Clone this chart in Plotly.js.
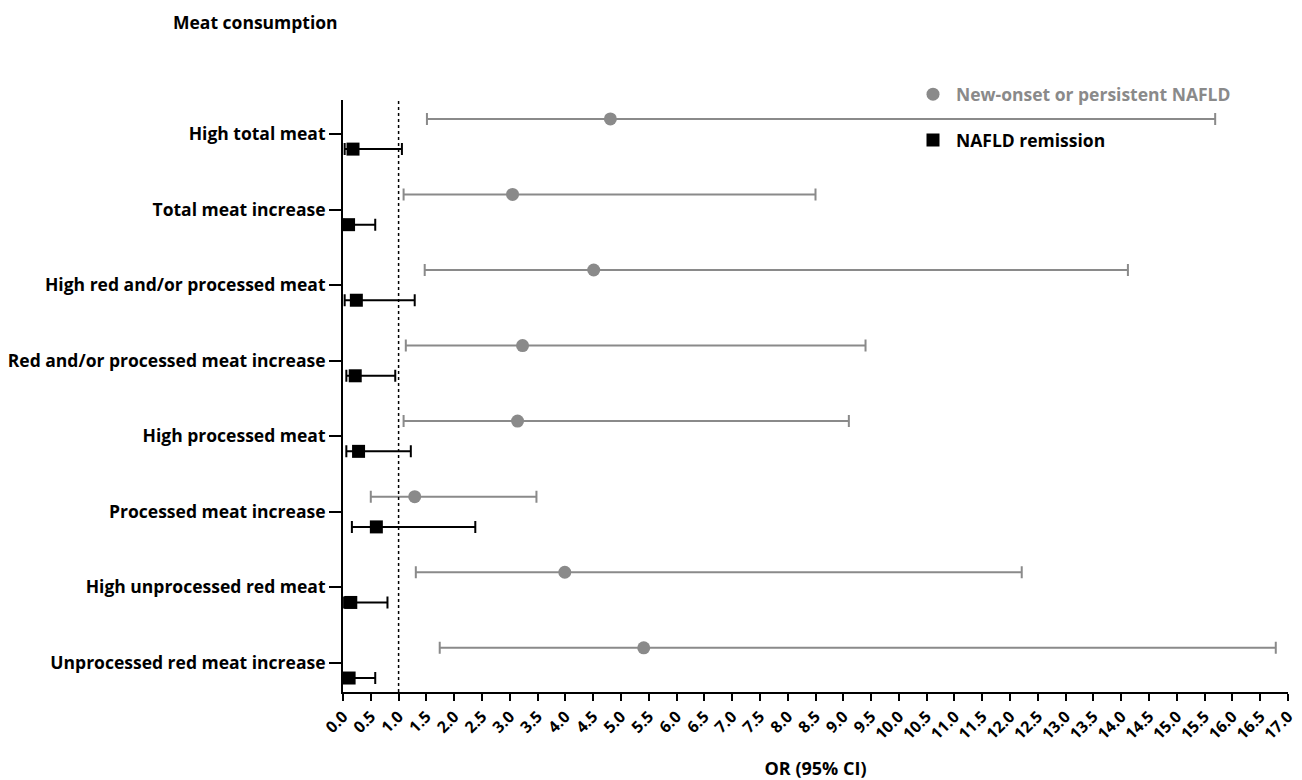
<!DOCTYPE html>
<html>
<head>
<meta charset="utf-8">
<script src="https://cdn.plot.ly/plotly-3.0.1.min.js"></script>
<style>html,body{margin:0;padding:0;background:#fff;}#chart{width:1302px;height:780px;}</style>
</head>
<body>
<div id="chart"></div>
<script>
// Categories (top to bottom)
const categories = [
  "High total meat",
  "Total meat increase",
  "High red and/or processed meat",
  "Red and/or processed meat increase",
  "High processed meat",
  "Processed meat increase",
  "High unprocessed red meat",
  "Unprocessed red meat increase"
];
// New-onset or persistent NAFLD: OR, lower CI, upper CI
const nafldOR    = [4.81, 3.05, 4.51, 3.23, 3.14, 1.29, 3.99, 5.41];
const nafldLower = [1.51, 1.09, 1.47, 1.13, 1.09, 0.50, 1.31, 1.74];
const nafldUpper = [15.69, 8.50, 14.12, 9.40, 9.10, 3.48, 12.21, 16.78];
// NAFLD remission: OR, lower CI, upper CI
const remOR    = [0.18, 0.10, 0.24, 0.22, 0.28, 0.60, 0.14, 0.11];
const remLower = [0.03, 0.02, 0.03, 0.06, 0.06, 0.16, 0.02, 0.02];
const remUpper = [1.06, 0.58, 1.29, 0.94, 1.22, 2.38, 0.80, 0.58];
// X tick values
const xTicks = [];
for (let i = 0; i <= 34; i++) xTicks.push(i / 2);

const FONT = '"Open Sans", "DejaVu Sans", sans-serif';
const GREY = '#8a8a8a';

const idx = categories.map((c, i) => i);
const traceNafld = {
  type: 'scatter', mode: 'markers', cliponaxis: false,
  name: '<span style="color:#8a8a8a">New-onset or persistent NAFLD</span>',
  legendgroup: 'a',
  x: nafldOR,
  y: idx.map(i => i - 0.2),
  marker: {symbol: 'circle', size: 13, color: GREY},
  error_x: {
    type: 'data', symmetric: false,
    array: nafldOR.map((v, i) => nafldUpper[i] - v),
    arrayminus: nafldOR.map((v, i) => v - nafldLower[i]),
    color: GREY, thickness: 2, width: 6
  }
};
const traceRem = {
  type: 'scatter', mode: 'markers', cliponaxis: false,
  name: 'NAFLD remission',
  legendgroup: 'b',
  x: remOR,
  y: idx.map(i => i + 0.2),
  marker: {symbol: 'square', size: 13, color: '#000'},
  error_x: {
    type: 'data', symmetric: false,
    array: remOR.map((v, i) => remUpper[i] - v),
    arrayminus: remOR.map((v, i) => v - remLower[i]),
    color: '#000', thickness: 2, width: 6
  }
};

const layout = {
  width: 1302, height: 780,
  margin: {l: 343, r: 14, t: 100, b: 88},
  paper_bgcolor: '#fff', plot_bgcolor: '#fff',
  font: {family: FONT, color: '#000', size: 14, weight: 'bold'},
  showlegend: true,
  legend: {
    x: 0.6, y: 1.04, xanchor: 'left', yanchor: 'top',
    bgcolor: 'rgba(0,0,0,0)', tracegroupgap: 20,
    font: {family: FONT, size: 17.5, weight: 'bold', color: '#000'},
    itemwidth: 36
  },
  xaxis: {
    range: [0, 17], tickmode: 'array', tickvals: xTicks,
    ticktext: xTicks.map(v => v.toFixed(1)),
    tickangle: -45, ticks: 'outside', ticklen: 7, tickwidth: 2, tickcolor: '#000',
    showline: true, linecolor: '#000', linewidth: 2, showgrid: false, zeroline: false,
    tickfont: {family: FONT, size: 16, weight: 'bold', color: '#000'},
    title: {text: 'OR (95% CI)', font: {family: FONT, size: 18, weight: 'bold', color: '#000'}, standoff: 20}
  },
  yaxis: {
    range: [7.385, -0.45], tickmode: 'array', tickvals: idx, ticktext: categories,
    ticks: 'outside', ticklen: 12, tickwidth: 2, tickcolor: '#000',
    showline: true, linecolor: '#000', linewidth: 2, showgrid: false, zeroline: false,
    tickfont: {family: FONT, size: 17.5, weight: 'bold', color: '#000'}
  },
  shapes: [{
    type: 'line', xref: 'x', yref: 'paper', x0: 1, x1: 1, y0: 0, y1: 1,
    line: {color: '#000', width: 1.5, dash: 'dot'}
  }],
  annotations: [{
    text: 'Meat consumption', xref: 'paper', yref: 'paper',
    x: -0.182, y: 1.132, xanchor: 'left', yanchor: 'middle', showarrow: false,
    font: {family: FONT, size: 17.5, weight: 'bold', color: '#000'}
  }]
};

Plotly.newPlot('chart', [traceNafld, traceRem], layout, {displayModeBar: false, staticPlot: true});
</script>
</body>
</html>
